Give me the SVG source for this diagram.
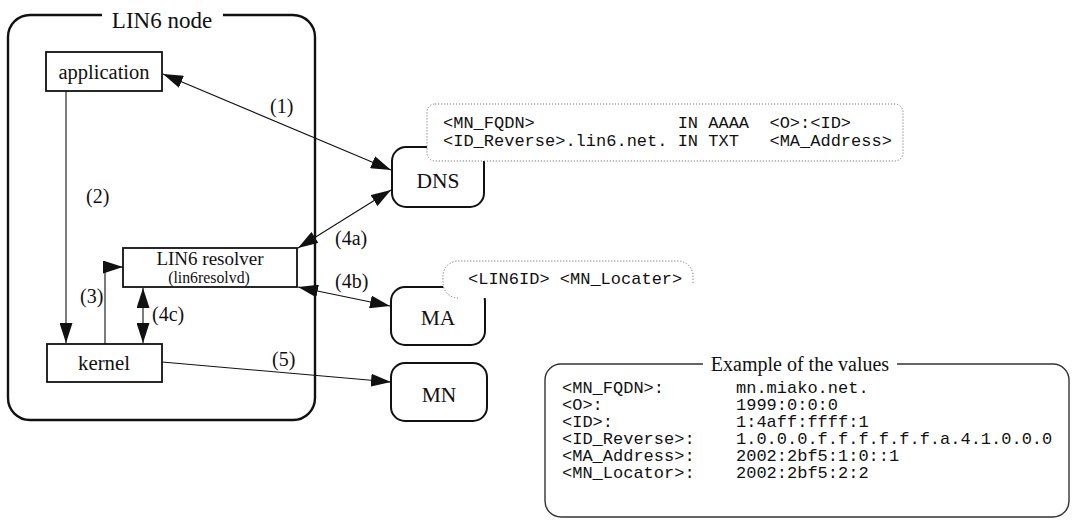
<svg xmlns="http://www.w3.org/2000/svg" width="1073" height="520" viewBox="0 0 1073 520">
<style>
.frame{fill:none;stroke:#111;stroke-width:2.4}
.box{fill:#fff;stroke:#111;stroke-width:1.8}
.rbox{fill:#fff;stroke:#111;stroke-width:2}
.callout{fill:#fff;stroke:#777;stroke-width:1;stroke-dasharray:1.2 1.8}
.mask{fill:#fff;stroke:none}
.exbox{fill:none;stroke:#333;stroke-width:1.4}
.ln{fill:none;stroke:#111;stroke-width:1.1}
.serif{font-family:"Liberation Serif","Times New Roman",serif;fill:#111}
.mono{font-family:"Liberation Mono","Courier New",monospace;font-size:17px;fill:#111}
.lbl{font-family:"Liberation Serif","Times New Roman",serif;font-size:20px;fill:#111}
</style>
<defs>
<marker id="ah" viewBox="0 0 20 13" refX="20" refY="6.5" markerWidth="20" markerHeight="13" markerUnits="userSpaceOnUse" orient="auto-start-reverse">
<path d="M0,0 L20,6.5 L0,13 z" fill="#111"/>
</marker>
</defs>
<rect width="1073" height="520" fill="#fff"/>

<g id="lin6-node">
<path class="frame" d="M223,15 H293 A22,22 0 0 1 315,37 V398 A22,22 0 0 1 293,420 H30 A22,22 0 0 1 8,398 V37 A22,22 0 0 1 30,15 H102"/>
<text class="serif" x="162" y="28" font-size="23" text-anchor="middle">LIN6 node</text>
</g>

<g id="application">
<rect class="box" x="46" y="52" width="116" height="39"/>
<text class="serif" x="104" y="79" font-size="20.5" text-anchor="middle">application</text>
</g>

<g id="lin6-resolver">
<rect class="box" x="123" y="248" width="174" height="39"/>
<text class="serif" x="210" y="265" font-size="19" text-anchor="middle">LIN6 resolver</text>
<text class="serif" x="209" y="283" font-size="15.8" text-anchor="middle">(lin6resolvd)</text>
</g>

<g id="kernel">
<rect class="box" x="47" y="344" width="115" height="38"/>
<text class="serif" x="104" y="370" font-size="20.8" text-anchor="middle">kernel</text>
</g>

<g id="dns">
<rect class="rbox" x="392" y="147" width="92" height="60" rx="14"/>
<text class="serif" x="438" y="188" font-size="21.5" text-anchor="middle">DNS</text>
</g>

<g id="ma">
<rect class="rbox" x="391" y="287" width="94" height="58" rx="14"/>
<text class="serif" x="438" y="325" font-size="21.5" text-anchor="middle">MA</text>
</g>

<g id="mn">
<rect class="rbox" x="391" y="363" width="96" height="58" rx="14"/>
<text class="serif" x="439" y="402" font-size="21.5" text-anchor="middle">MN</text>
</g>

<g id="dns-records">
<rect class="callout" x="427" y="104" width="476" height="57" rx="8"/>
<text class="mono" x="443" y="128" xml:space="preserve" style="white-space:pre">&lt;MN_FQDN&gt;              IN AAAA  &lt;O&gt;:&lt;ID&gt;</text>
<text class="mono" x="443" y="146" xml:space="preserve" style="white-space:pre">&lt;ID_Reverse&gt;.lin6.net. IN TXT   &lt;MA_Address&gt;</text>
</g>

<g id="ma-record">
<rect class="mask" x="443" y="261" width="250" height="37" rx="15"/>
<path class="callout" fill="none" d="M458,298 A15,15 0 0 1 443,283 V276 A15,15 0 0 1 458,261 H678 A15,15 0 0 1 693,276 V283"/>
<text class="mono" x="468" y="284">&lt;LIN6ID&gt; &lt;MN_Locater&gt;</text>
</g>

<g id="connectors">
<line class="ln" x1="163" y1="74" x2="391" y2="170" marker-start="url(#ah)" marker-end="url(#ah)"/>
<line class="ln" x1="66" y1="91" x2="66" y2="343" marker-end="url(#ah)"/>
<path class="ln" d="M105,344 V267 H123" marker-end="url(#ah)"/>
<line class="ln" x1="143" y1="288" x2="143" y2="343" marker-start="url(#ah)" marker-end="url(#ah)"/>
<line class="ln" x1="298" y1="248" x2="391" y2="190" marker-start="url(#ah)" marker-end="url(#ah)"/>
<line class="ln" x1="298" y1="287" x2="390" y2="306" marker-start="url(#ah)" marker-end="url(#ah)"/>
<line class="ln" x1="162" y1="362" x2="391" y2="382" marker-end="url(#ah)"/>
<text class="lbl" x="270" y="113">(1)</text>
<text class="lbl" x="86" y="203">(2)</text>
<text class="lbl" x="80" y="303">(3)</text>
<text class="lbl" x="335" y="245">(4a)</text>
<text class="lbl" x="335" y="288">(4b)</text>
<text class="lbl" x="152" y="321">(4c)</text>
<text class="lbl" x="272" y="366">(5)</text>
</g>

<g id="example-values">
<path class="exbox" d="M897,364 H1053 A16,16 0 0 1 1069,380 V501 A16,16 0 0 1 1053,517 H561 A16,16 0 0 1 545,501 V380 A16,16 0 0 1 561,364 H703"/>
<text class="serif" x="800" y="371" font-size="20" text-anchor="middle">Example of the values</text>
<text class="mono" x="562" y="393">&lt;MN_FQDN&gt;:</text>
<text class="mono" x="562" y="410">&lt;O&gt;:</text>
<text class="mono" x="562" y="427">&lt;ID&gt;:</text>
<text class="mono" x="562" y="444">&lt;ID_Reverse&gt;:</text>
<text class="mono" x="562" y="461">&lt;MA_Address&gt;:</text>
<text class="mono" x="562" y="478">&lt;MN_Locator&gt;:</text>
<text class="mono" x="736" y="393">mn.miako.net.</text>
<text class="mono" x="736" y="410">1999:0:0:0</text>
<text class="mono" x="736" y="427">1:4aff:ffff:1</text>
<text class="mono" x="736" y="444">1.0.0.0.f.f.f.f.f.f.a.4.1.0.0.0</text>
<text class="mono" x="736" y="461">2002:2bf5:1:0::1</text>
<text class="mono" x="736" y="478">2002:2bf5:2:2</text>
</g>
</svg>
